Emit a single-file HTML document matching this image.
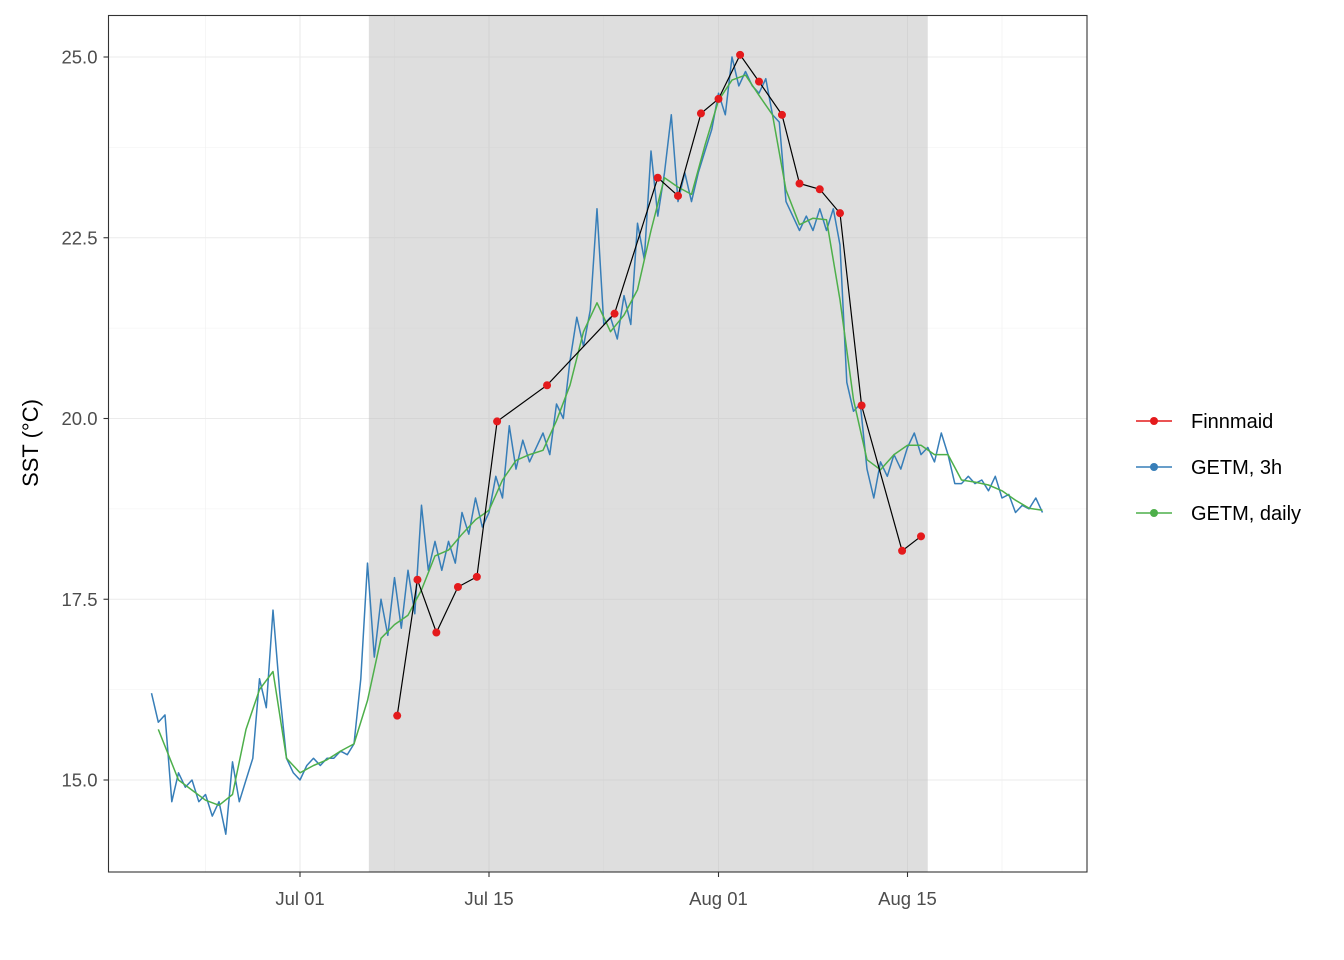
<!DOCTYPE html>
<html><head><meta charset="utf-8"><style>
html,body{margin:0;padding:0;background:#fff;}
svg{display:block;font-family:"Liberation Sans",Arial,sans-serif;}
</style></head><body>
<svg id="chart" width="1344" height="960" viewBox="0 0 1344 960" xmlns="http://www.w3.org/2000/svg">
<rect width="1344" height="960" fill="#fff"/>
<g id="grid"></g>
<g id="shade"></g>
<g id="series"></g>
<rect x="108.5" y="15.5" width="978.5" height="856.5" fill="none" stroke="#333" stroke-width="1.1"/>
<g id="axes"></g>
<text x="38" y="443" transform="rotate(-90 38 443)" text-anchor="middle" font-size="22" fill="#000">SST (°C)</text>
<g id="legend"></g>
</svg>
<script>
// Day offsets relative to Jul 01
const yTicks = [15.0, 17.5, 20.0, 22.5, 25.0];
const yTickLabels = ["15.0", "17.5", "20.0", "22.5", "25.0"];
const xTicks = [0, 14, 31, 45];
const xTickLabels = ["Jul 01", "Jul 15", "Aug 01", "Aug 15"];
const shadeRange = [5.1, 46.5];
const finnDays = [7.2,8.7,10.1,11.7,13.1,14.6,18.3,23.3,26.5,28,29.7,31,32.6,34,35.7,37,38.5,40,41.6,44.6,46];
const finnVals = [15.89,17.77,17.04,17.67,17.81,19.96,20.46,21.45,23.33,23.08,24.22,24.42,25.03,24.66,24.2,23.25,23.17,22.84,20.18,18.17,18.37];
const dailyStart = -10.5;
const dailyVals = [15.7,15.0,14.86,14.72,14.65,14.8,15.7,16.25,16.5,15.3,15.1,15.2,15.28,15.4,15.5,16.1,16.96,17.15,17.28,17.63,18.1,18.18,18.4,18.6,18.73,19.15,19.42,19.5,19.56,19.97,20.46,21.2,21.6,21.2,21.43,21.78,22.6,23.33,23.2,23.1,23.78,24.4,24.68,24.75,24.47,24.2,23.16,22.68,22.77,22.75,21.64,20.26,19.43,19.29,19.5,19.63,19.63,19.5,19.5,19.15,19.12,19.08,19.0,18.87,18.76,18.73];
const dailyDays = dailyVals.map((v,i)=> i===0 ? -10.5 : -10 + i);
const h3Start = -11;
const h3Vals = [16.2,15.8,15.9,14.7,15.1,14.9,15.0,14.7,14.8,14.5,14.7,14.25,15.25,14.7,15.0,15.3,16.4,16.0,17.35,16.2,15.3,15.1,15.0,15.2,15.3,15.2,15.3,15.3,15.4,15.35,15.5,16.4,18.0,16.7,17.5,17.0,17.8,17.1,17.9,17.3,18.8,17.9,18.3,17.9,18.3,18.0,18.7,18.4,18.9,18.5,18.7,19.2,18.9,19.9,19.3,19.7,19.4,19.6,19.8,19.5,20.2,20.0,20.8,21.4,21.0,21.5,22.9,21.3,21.4,21.1,21.7,21.3,22.7,22.2,23.7,22.8,23.4,24.2,23.0,23.4,23.0,23.4,23.7,24.0,24.5,24.2,25.0,24.6,24.8,24.6,24.5,24.7,24.2,24.1,23.0,22.8,22.6,22.8,22.6,22.9,22.6,22.9,22.4,20.5,20.1,20.2,19.3,18.9,19.4,19.2,19.5,19.3,19.6,19.8,19.5,19.6,19.4,19.8,19.5,19.1,19.1,19.2,19.1,19.15,19.0,19.2,18.9,18.95,18.7,18.8,18.75,18.9,18.7];

const X0=108.5, X1=1087, Y0=15.5, Y1=872;
const xs = d => 300 + 13.5*d;
const ys = v => 57 + (25 - v)*72.3;
const NS='http://www.w3.org/2000/svg';
function mk(tag, attrs, parent){const e=document.createElementNS(NS,tag);for(const k in attrs)e.setAttribute(k,attrs[k]);parent.appendChild(e);return e;}
const grid=document.getElementById('grid'), shade=document.getElementById('shade'), series=document.getElementById('series'), axes=document.getElementById('axes'), legend=document.getElementById('legend');

// minor grid
[-7,7,22.5,38,52].forEach(d=>{const l=mk('line',{x1:xs(d),x2:xs(d),y1:Y0,y2:Y1,stroke:'#f0f0f0','stroke-width':0.6},grid);

});
[16.25,18.75,21.25,23.75].forEach(v=>{const l=mk('line',{x1:X0,x2:X1,y1:ys(v),y2:ys(v),stroke:'#f0f0f0','stroke-width':0.6},grid);

});
xTicks.forEach(d=>{const l=mk('line',{x1:xs(d),x2:xs(d),y1:Y0,y2:Y1,stroke:'#ebebeb','stroke-width':1.1},grid);

});
yTicks.forEach(v=>{const l=mk('line',{x1:X0,x2:X1,y1:ys(v),y2:ys(v),stroke:'#ebebeb','stroke-width':1.1},grid);

});

const sr=mk('rect',{x:xs(shadeRange[0]),y:Y0,width:xs(shadeRange[1])-xs(shadeRange[0]),height:Y1-Y0,fill:'#bebebe','fill-opacity':0.5},shade);



// 3h line
const p3=h3Vals.map((v,i)=>xs(h3Start+0.5*i).toFixed(1)+','+ys(v).toFixed(1)).join(' ');
const l3=mk('polyline',{points:p3,fill:'none',stroke:'#377EB8','stroke-width':1.5,'stroke-linejoin':'round'},series);


// daily line
const pd=dailyVals.map((v,i)=>xs(dailyDays[i]).toFixed(1)+','+ys(v).toFixed(1)).join(' ');
const ld=mk('polyline',{points:pd,fill:'none',stroke:'#4DAF4A','stroke-width':1.5,'stroke-linejoin':'round'},series);


// finnmaid
const pf=finnVals.map((v,i)=>xs(finnDays[i]).toFixed(1)+','+ys(v).toFixed(1)).join(' ');
const lf=mk('polyline',{points:pf,fill:'none',stroke:'#000','stroke-width':1.2},series);


finnVals.forEach((v,i)=>{const c=mk('circle',{cx:xs(finnDays[i]),cy:ys(v),r:4,fill:'#E41A1C'},series);

});

// axes ticks
yTicks.forEach((v,i)=>{const t=mk('line',{x1:X0-5,x2:X0,y1:ys(v),y2:ys(v),stroke:'#333','stroke-width':1.1},axes);


const tx=mk('text',{x:X0-11,y:ys(v)+6.5,'text-anchor':'end','font-size':18.5,fill:'#4d4d4d'},axes);tx.textContent=yTickLabels[i];

});
xTicks.forEach((d,i)=>{const t=mk('line',{x1:xs(d),x2:xs(d),y1:Y1,y2:Y1+5,stroke:'#333','stroke-width':1.1},axes);


const tx=mk('text',{x:xs(d),y:Y1+33,'text-anchor':'middle','font-size':18.5,fill:'#4d4d4d'},axes);tx.textContent=xTickLabels[i];

});

// legend
const legNames=['Finnmaid','GETM, 3h','GETM, daily'], legCols=['#E41A1C','#377EB8','#4DAF4A'];
legNames.forEach((n,i)=>{const y=421+46*i;
const ln=mk('line',{x1:1136,x2:1172,y1:y,y2:y,stroke:legCols[i],'stroke-width':1.5},legend);


const c=mk('circle',{cx:1154,cy:y,r:4,fill:legCols[i]},legend);


const t=mk('text',{x:1191,y:y+7,'font-size':20,fill:'#000'},legend);t.textContent=n;

});
</script>
</body></html>
